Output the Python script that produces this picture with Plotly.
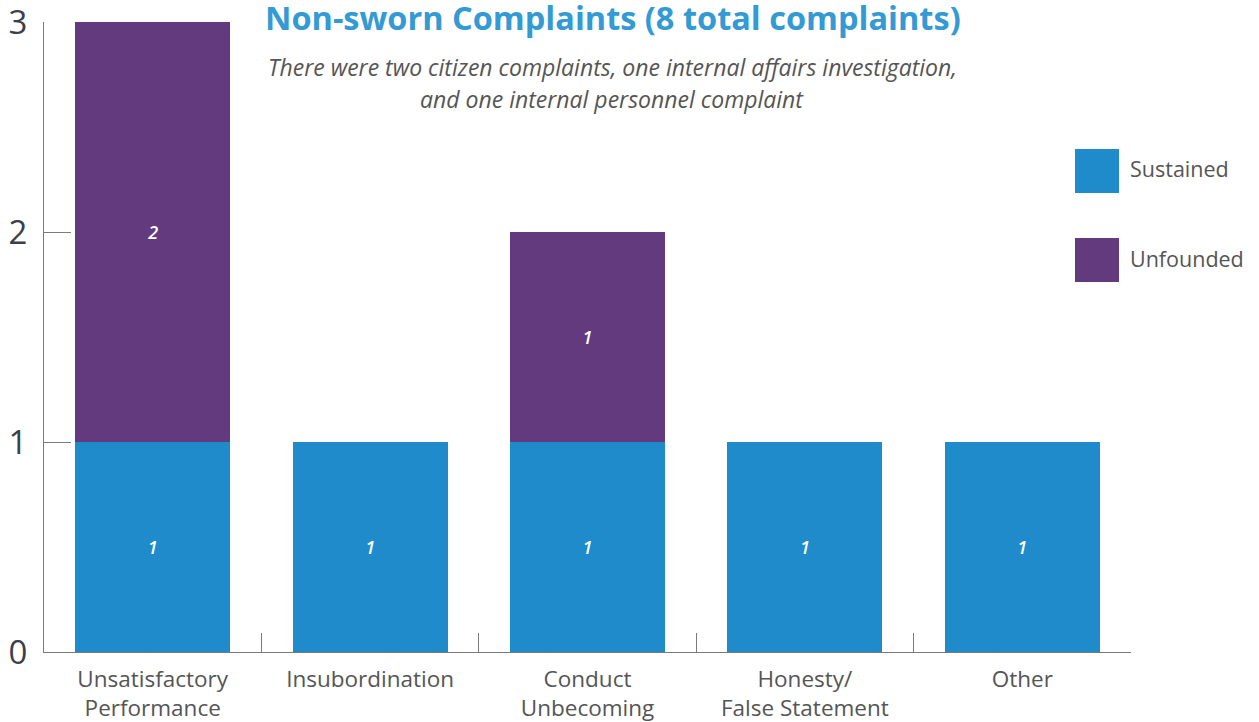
import plotly.graph_objects as go

categories = ["Unsatisfactory<br>Performance", "Insubordination", "Conduct<br>Unbecoming",
              "Honesty/<br>False Statement", "Other"]
series_names = ["Sustained", "Unfounded"]
sustained = [1, 1, 1, 1, 1]
unfounded = [2, 0, 1, 0, 0]
y_ticks = [0, 1, 2, 3]

title_text = "Non-sworn Complaints (8 total complaints)"
subtitle_lines = ["There were two citizen complaints, one internal affairs investigation,",
                  "and one internal personnel complaint"]

BLUE = "#1f8bcb"
PURPLE = "#643a7f"
AXIS = "#7a7a7a"
FONT = "Open Sans"

W, H = 1259, 722
PLOT_L, PLOT_R, PLOT_T, PLOT_B = 44, 1131, 22, 652  # screen pixels
L, T = PLOT_L, PLOT_T
R, B = W - PLOT_R, H - PLOT_B
PW, PH = PLOT_R - PLOT_L, PLOT_B - PLOT_T


def px_x(px):
    return (px - PLOT_L) / PW


def px_y(py):
    return (PLOT_B - py) / PH


fig = go.Figure()
for name, vals, col in [(series_names[0], sustained, BLUE), (series_names[1], unfounded, PURPLE)]:
    fig.add_trace(go.Bar(
        x=categories, y=vals, name=name,
        marker=dict(color=col, line=dict(width=0)),
        text=[str(v) if v else "" for v in vals],
        textposition="inside", insidetextanchor="middle", textangle=0,
        textfont=dict(family=FONT, size=18, color="white", style="italic", weight=600),
        hoverinfo="x+y+name",
    ))

fig.update_layout(
    barmode="stack", bargap=0.287,
    width=W, height=H,
    margin=dict(l=L, r=R, t=T, b=B, autoexpand=False),
    plot_bgcolor="white", paper_bgcolor="white",
    showlegend=False,
    font=dict(family=FONT),
)
fig.update_xaxes(
    type="category", showline=True, linecolor=AXIS, linewidth=1,
    ticks="inside", tickson="boundaries", ticklen=19, tickcolor=AXIS, tickwidth=1,
    tickfont=dict(family=FONT, size=22.5, color="#555555"), ticklabelstandoff=7,
    showgrid=False, zeroline=False,
)
fig.update_yaxes(
    range=[0, 3], tickvals=y_ticks, showline=True, linecolor=AXIS, linewidth=1,
    ticks="inside", ticklen=27, tickcolor=AXIS, tickwidth=1,
    tickfont=dict(family=FONT, size=33, color="#3b3f4a"), ticklabelstandoff=9,
    ticklabeloverflow="allow",
    showgrid=False, zeroline=False,
)

# title / subtitle
fig.add_annotation(text="<b>" + title_text + "</b>", xref="paper", yref="paper",
                   x=px_x(613), y=px_y(17), xanchor="center", yanchor="middle",
                   showarrow=False, font=dict(family=FONT, size=32.5, color="#349ad3"))
for i, line in enumerate(subtitle_lines):
    fig.add_annotation(text="<i>" + line + "</i>", xref="paper", yref="paper",
                       x=px_x(612), y=px_y(67 + 32 * i), xanchor="center", yanchor="middle",
                       showarrow=False, font=dict(family=FONT, size=23, color="#555555"))

# custom legend
for i, (name, col) in enumerate([(series_names[0], BLUE), (series_names[1], PURPLE)]):
    top = 149 + 89 * i
    fig.add_shape(type="rect", xref="paper", yref="paper",
                  x0=px_x(1075), x1=px_x(1119), y0=px_y(top + 44), y1=px_y(top),
                  fillcolor=col, line=dict(width=0))
    fig.add_annotation(text=name, xref="paper", yref="paper",
                       x=px_x(1128), y=px_y(top + 20), xanchor="left", yanchor="middle",
                       showarrow=False, font=dict(family=FONT, size=21.5, color="#555555"))

fig.write_html(
    "out.html",
    config={"displayModeBar": False},
    post_script="document.body.style.margin='0';document.body.style.overflow='hidden';",
)
